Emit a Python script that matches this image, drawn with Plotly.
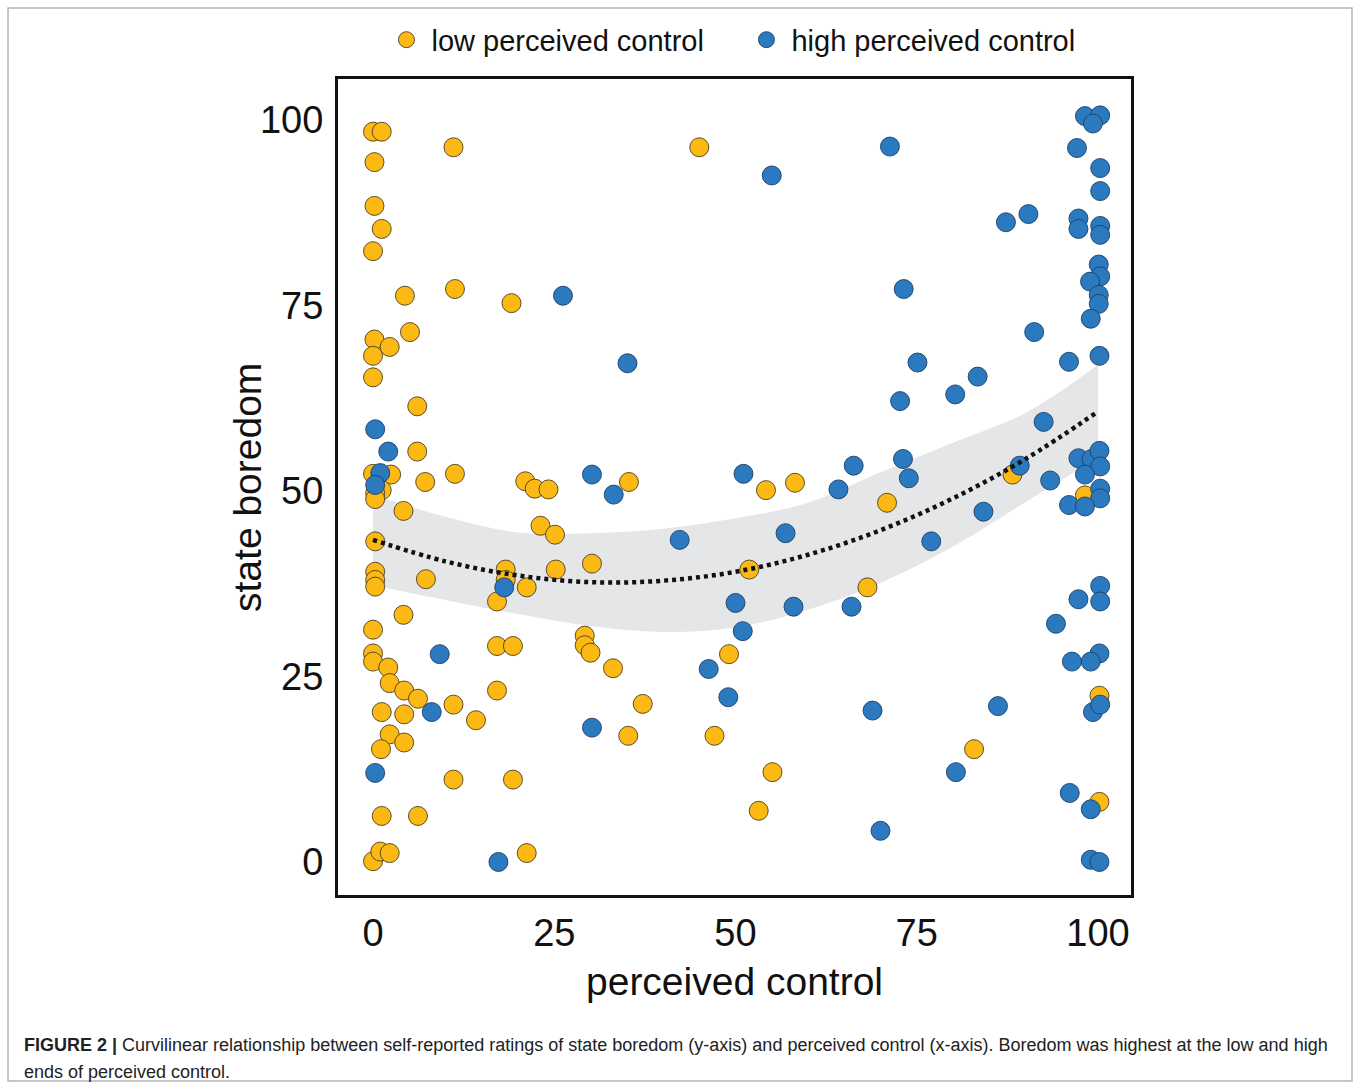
import plotly.graph_objects as go

# ---- data ----
low_x = [0, 1.2, 0.2, 11.1, 0.2, 1.2, 0, 4.4, 11.3, 19.1, 5.1, 0.2, 2.3, 0, 0, 6.1, 6.1, 0, 2.5, 7.2,
         11.3, 21, 1.2, 0.3, 0.3, 4.2, 0.3, 0.3, 0.3, 0.3, 7.3, 18.3, 18.3, 21.2, 17.1, 4.2, 0, 0, 0, 2.1,
         17.1, 19.3, 2.3, 4.3, 6.2, 1.2, 4.3, 11.1, 14.2, 17.1, 2.3, 4.3, 1.1, 11.1, 19.3, 1.2, 6.2, 0, 1, 2.3,
         21.2,
         45, 22.3, 24.2, 35.3, 54.2, 58.2, 23.1, 25.1, 25.2, 30.2, 51.9, 29.2, 29.2, 30, 33.1, 49.1, 37.2, 35.2,
         47.1, 55.1, 53.2,
         88.2, 70.9, 98.2, 68.2, 100.2, 82.9, 100.2]
low_y = [98.4, 98.4, 94.3, 96.3, 88.4, 85.3, 82.3, 76.3, 77.2, 75.3, 71.4, 70.4, 69.4, 68.2, 65.3, 61.4, 55.3, 52.3, 52.2, 51.2,
         52.3, 51.3, 50.1, 49.7, 48.9, 47.3, 43.2, 39.1, 38.0, 37.1, 38.1, 39.4, 38.0, 37.0, 35.1, 33.3, 31.3, 28.1, 27.0, 26.2,
         29.1, 29.1, 24.1, 23.1, 22.0, 20.2, 19.9, 21.2, 19.1, 23.1, 17.2, 16.1, 15.2, 11.1, 11.1, 6.2, 6.2, 0.1, 1.4, 1.2,
         1.2,
         96.3, 50.3, 50.2, 51.2, 50.1, 51.1, 45.3, 44.1, 39.4, 40.2, 39.4, 30.5, 29.2, 28.2, 26.1, 28.0, 21.3, 17.0,
         17.0, 12.1, 6.9,
         52.2, 48.4, 49.4, 37.0, 22.4, 15.2, 8.1]

high_x = [0.3, 2.1, 1, 0.3, 18.1, 9.2, 8.1, 0.3, 17.3,
          55, 26.2, 35.1, 30.2, 33.2, 51.1, 42.3, 56.9, 50, 58, 51, 46.3, 49, 30.2,
          98.2, 100.3, 99.3, 71.3, 97.1, 100.3, 100.3, 87.3, 90.4, 97.3, 97.3, 100.3, 100.3, 73.2, 100.1, 100.3,
          98.9, 100.1, 100.1, 99, 91.2, 75.1, 96, 100.2, 83.4, 80.3, 72.7, 92.5, 66.3, 73.1, 73.9, 89.2, 64.2,
          93.4, 97.3, 99.1, 100.2, 100.3, 98.2, 100.3, 100.3, 96, 98.2, 84.2, 77, 66, 100.3, 97.3, 100.3, 94.2,
          100.2, 99, 96.4, 99.3, 100.3, 86.2, 68.9, 80.4, 96.1, 99, 70, 99, 100.2]
high_y = [58.3, 55.3, 52.4, 50.8, 37.0, 28.0, 20.2, 12.0, 0,
          92.5, 76.3, 67.2, 52.2, 49.5, 52.3, 43.4, 44.3, 34.9, 34.4, 31.1, 26, 22.2, 18.1,
          100.5, 100.6, 99.5, 96.4, 96.2, 93.5, 90.4, 86.2, 87.3, 86.7, 85.3, 85.7, 84.5, 77.2, 80.5, 78.9,
          78.2, 76.4, 75.2, 73.2, 71.4, 67.3, 67.4, 68.2, 65.4, 63.0, 62.1, 59.3, 53.4, 54.3, 51.7, 53.4, 50.2,
          51.4, 54.4, 54.3, 55.4, 53.3, 52.2, 50.3, 49.0, 48.1, 47.9, 47.2, 43.2, 34.4, 37.2, 35.4, 35.1, 32.1,
          28.1, 27, 27, 20.2, 21.2, 21.0, 20.4, 12.1, 9.3, 7.1, 4.2, 0.3, 0]

# fitted quadratic trend and its confidence band
fit_x = [0, 10, 20, 30, 40, 50, 60, 70, 80, 90, 100]
fit_y = [43.4, 40.5, 38.6, 37.7, 37.9, 39.1, 41.4, 44.7, 49.0, 54.3, 60.7]
ci_low = [37.3, 35.3, 33.4, 31.8, 31.0, 31.6, 34.0, 37.6, 42.5, 48.5, 54.5]
ci_high = [49.5, 46.5, 44.4, 44.3, 44.9, 46.3, 48.4, 52.5, 56.5, 60.5, 67.0]

tick_vals = [0, 25, 50, 75, 100]
tick_text = ["0", "25", "50", "75", "100"]

YELLOW = "#FCB813"
BLUE = "#2B79BF"
FONT = "Liberation Sans, Arial, sans-serif"
INK = "#111111"

fig = go.Figure()

# confidence band
fig.add_trace(go.Scatter(x=fit_x, y=ci_low, mode="lines", line=dict(width=0, shape="spline"),
                         hoverinfo="skip", showlegend=False))
fig.add_trace(go.Scatter(x=fit_x, y=ci_high, mode="lines", line=dict(width=0, shape="spline"),
                         fill="tonexty", fillcolor="#e5e6e8", hoverinfo="skip", showlegend=False))

# points
fig.add_trace(go.Scatter(x=low_x, y=low_y, mode="markers", name="low perceived control",
                         marker=dict(size=19, color=YELLOW, line=dict(color="#4a4020", width=0.9))))
fig.add_trace(go.Scatter(x=high_x, y=high_y, mode="markers", name="high perceived control",
                         marker=dict(size=19, color=BLUE, line=dict(color="#1d3f66", width=0.9))))

# trend line
fig.add_trace(go.Scatter(x=fit_x, y=fit_y, mode="lines", showlegend=False, hoverinfo="skip",
                         line=dict(color=INK, width=4.5, dash="4px,4px", shape="spline")))

fig.update_layout(
    width=1360, height=1088,
    margin=dict(l=338, r=229, t=79, b=193),
    paper_bgcolor="white", plot_bgcolor="white",
    font=dict(family=FONT, color=INK),
    showlegend=True,
    legend=dict(orientation="h", traceorder="normal", x=0.0548, xanchor="left", y=1.048, yanchor="middle",
                font=dict(size=29, family=FONT, color=INK), itemsizing="trace", itemwidth=40,
                entrywidth=305, entrywidthmode="pixels", bgcolor="rgba(0,0,0,0)"),
    xaxis=dict(range=[-4.83, 104.55], tickvals=tick_vals, ticktext=tick_text, showgrid=False,
               zeroline=False, showline=True, linecolor=INK, linewidth=3, mirror=True,
               ticks="", tickfont=dict(size=38, family=FONT, color=INK), ticklabelstandoff=2),
    yaxis=dict(range=[-4.45, 105.5], tickvals=tick_vals, ticktext=tick_text, showgrid=False,
               zeroline=False, showline=True, linecolor=INK, linewidth=3, mirror=True,
               ticks="", tickfont=dict(size=38, family=FONT, color=INK), ticklabelstandoff=4),
)

# axis titles
fig.add_annotation(xref="paper", yref="paper", x=0.5, y=-0.1066, xanchor="center", yanchor="middle",
                   showarrow=False, text="perceived control", font=dict(size=39, family=FONT, color=INK))
fig.add_annotation(xref="paper", yref="paper", x=-0.1148, y=0.5, xanchor="center", yanchor="middle",
                   showarrow=False, text="state boredom", textangle=-90,
                   font=dict(size=39, family=FONT, color=INK))

# outer figure frame
fig.add_shape(type="rect", xref="paper", yref="paper", x0=-0.4161, x1=1.2787, y0=-0.2279, y1=1.087,
              line=dict(color="#b5b5b5", width=1.5), fillcolor="rgba(0,0,0,0)", layer="below")

# caption
fig.add_annotation(xref="paper", yref="paper", x=-0.3985, y=-0.1838, xanchor="left", yanchor="middle",
                   showarrow=False, align="left",
                   text="<b>FIGURE 2 |</b> Curvilinear relationship between self-reported ratings of state boredom "
                        "(y-axis) and perceived control (x-axis). Boredom was highest at the low and high",
                   font=dict(size=18, family=FONT, color="#222222"))
fig.add_annotation(xref="paper", yref="paper", x=-0.3985, y=-0.2169, xanchor="left", yanchor="middle",
                   showarrow=False, align="left", text="ends of perceived control.",
                   font=dict(size=18, family=FONT, color="#222222"))

fig.write_html("out.html", config={"displayModeBar": False},
               post_script="document.body.style.margin='0px';")
